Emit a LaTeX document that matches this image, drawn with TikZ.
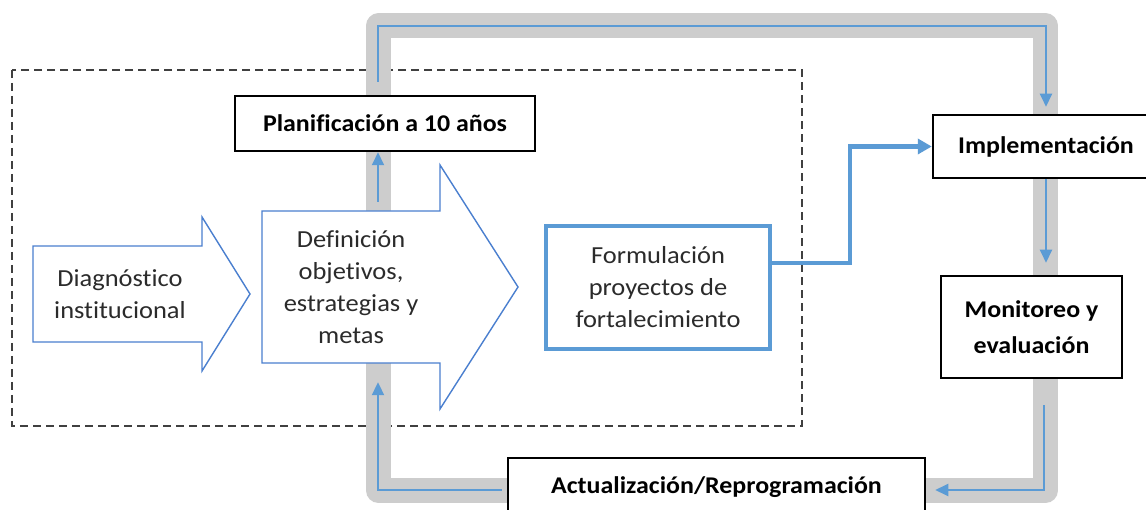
\documentclass[tikz,border=0pt]{standalone}
\usepackage{fontspec}
\setmainfont{Carlito}[FakeStretch=1.08,Ligatures=NoCommon]
\usetikzlibrary{arrows.meta}
\definecolor{loopgray}{HTML}{CDCDCD}
\definecolor{flowblue}{HTML}{5B9BD5}
\definecolor{arrowblue}{HTML}{4A7FCF}
\definecolor{dashgray}{HTML}{404040}
\definecolor{txt}{HTML}{2B2B2B}
\tikzset{
  txtfont/.style={font=\fontsize{24.5}{32}\selectfont, text=txt, align=center},
  boldfont/.style={font=\fontsize{24}{32}\selectfont\bfseries, text=black, align=center},
  blackbox/.style={boldfont, draw=black, line width=2.5pt, fill=white, inner sep=0pt},
  bluebox/.style={txtfont, draw=flowblue, line width=4pt, fill=white, inner sep=0pt},
  arrowlabel/.style={txtfont, inner sep=0pt},
  blockarrow/.style={draw=arrowblue, line width=1.4pt, fill=white, line join=miter},
  loopband/.style={draw=loopgray, line width=25pt, line join=round},
  framebox/.style={draw=dashgray, line width=1.5pt, dash pattern=on 8pt off 5pt},
  flow/.style={draw=flowblue, line width=2pt, -{Triangle[length=13pt,width=12pt]}},
  bigflow/.style={draw=flowblue, line width=4.5pt, -{Triangle[length=14pt,width=15pt]}},
}
\begin{document}
\begin{tikzpicture}[x=1pt,y=-1pt]
\useasboundingbox (0,0) rectangle (1146,510);
\clip (0,0) rectangle (1146,510);
\fill[white] (0,0) rectangle (1146,510);

% corners of the feedback loop
\coordinate (lt) at (378,26);
\coordinate (rt) at (1046,26);
\coordinate (rb) at (1044,490);
\coordinate (lb) at (378,490);

% dashed planning frame
\draw[framebox] (12,70) rectangle (802,426);

% grey loop band
\draw[loopband] (378.5,26) -- (1045.5,26) -- (1045.5,490.5) -- (378.5,490.5) -- cycle;

% block arrows
\draw[blockarrow] (33,246) -- (202,246) -- (202,217) -- (250,294) -- (202,371) -- (202,342) -- (33,342) -- cycle;
\draw[blockarrow] (262,211) -- (440,211) -- (440,165) -- (518,287) -- (440,409) -- (440,363) -- (262,363) -- cycle;
\node[arrowlabel, minimum width=169pt, minimum height=96pt] (diag) at (120,294) {Diagnóstico\\institucional};
\node[arrowlabel, minimum width=178pt, minimum height=152pt] (def) at (351,287) {Definición\\objetivos,\\estrategias y\\metas};

% boxes
\node[blackbox, minimum width=300pt, minimum height=55pt] (plan) at (385,123.5) {Planificación a 10 años};
\node[bluebox, minimum width=224pt, minimum height=123pt] (form) at (658,287.5) {Formulación\\proyectos de\\fortalecimiento};
\node[blackbox, minimum width=226pt, minimum height=63pt] (impl) at (1046,146.5) {Implementación};
\node[blackbox, minimum width=181pt, minimum height=102pt, font=\fontsize{24}{36}\selectfont\bfseries] (mon) at (1031.5,327) {Monitoreo y\\evaluación};
\node[blackbox, minimum width=417pt, minimum height=59pt] (act) at (716.5,487.5) {Actualización/Reprogramación};

% connectors
\draw[flow, shorten <=9pt] (lt |- def.north) -- (lt |- plan.south);
\draw[flow, shorten <=13pt, shorten >=7pt] (lt |- plan.north) -- (lt) -- (rt) -- (rt |- impl.north);
\draw[flow, shorten >=12pt] (rt |- impl.south) -- (rt |- mon.north);
\draw[flow, shorten <=26pt, shorten >=9pt] (rb |- mon.south) -- (rb) -- (act.east |- rb);
\draw[flow, shorten <=5pt, shorten >=19pt] (act.west |- lb) -- (lb) -- (lb |- def.south);
\draw[bigflow] ([yshift=24.5pt]form.east) -| ([xshift=-82pt]impl.west) -- (impl.west);
\end{tikzpicture}
\end{document}
